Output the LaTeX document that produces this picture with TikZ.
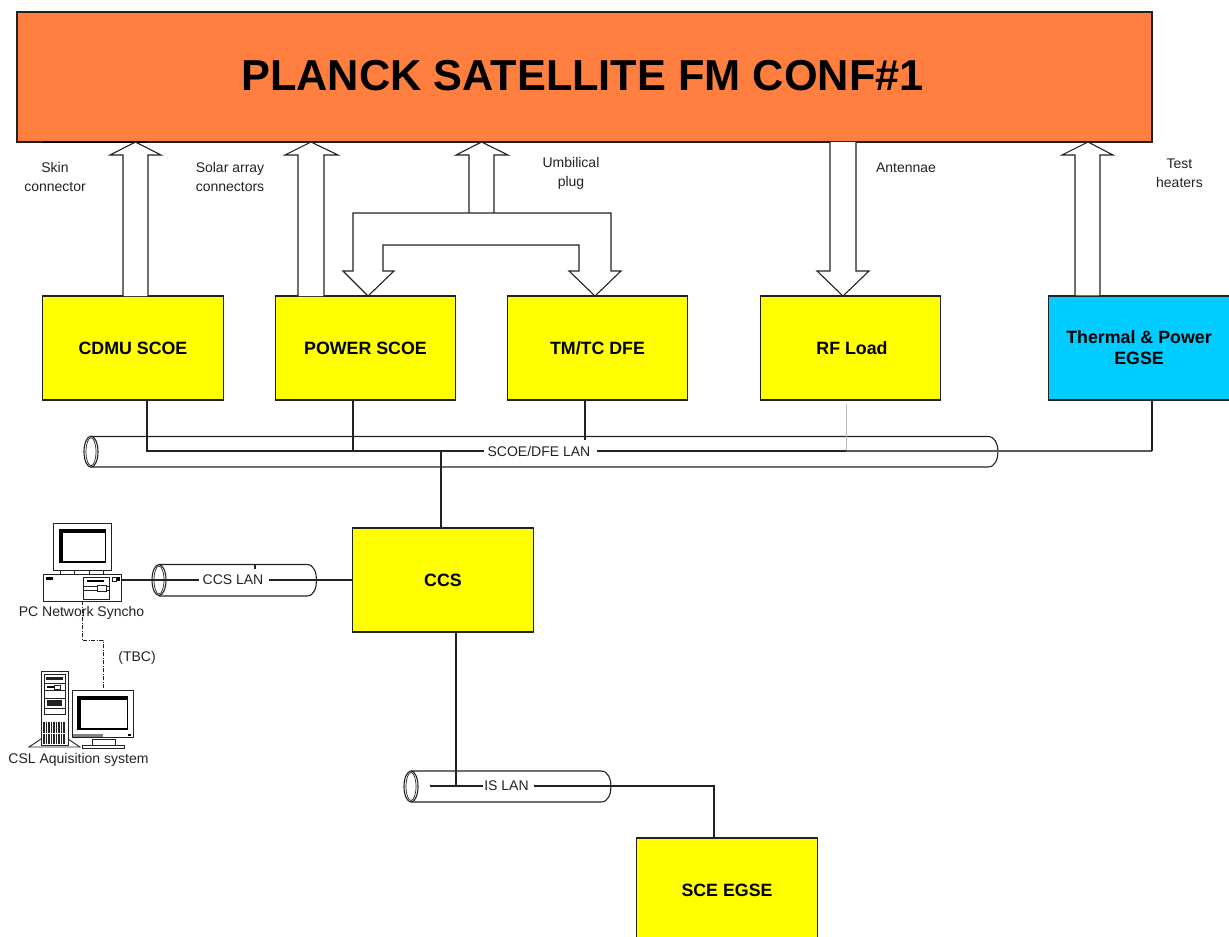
\documentclass[tikz,border=0pt]{standalone}
\usepackage{fontspec}
\setmainfont{Liberation Sans}
\definecolor{topfill}{HTML}{FF7F40}
\definecolor{cyanfill}{HTML}{00CCFF}
\definecolor{boxyellow}{HTML}{FFFF00}
\definecolor{ink}{HTML}{222222}
\tikzset{
  box/.style={draw=ink,line width=1.1pt,fill=#1,minimum width=180.5pt,minimum height=104pt,inner sep=0pt,align=center,font=\fontsize{17.8}{21}\selectfont\bfseries},
  box/.default=boxyellow,
  wire/.style={draw=ink,line width=1.25pt},
  bigarrow/.style={draw=ink,line width=1.1pt,fill=white,line join=miter},
  lbl/.style={font=\fontsize{14}{18.5}\selectfont,align=center,text=ink,inner sep=0pt},
  lanlbl/.style={font=\fontsize{14}{16}\selectfont,text=ink,inner sep=0pt},
  pipe/.style={draw=ink,line width=1.1pt},
  icon/.style={draw=ink,line width=.9pt,fill=white},
  screenout/.style={fill=black},
  screenin/.style={fill=white},
}
\begin{document}
\begin{tikzpicture}[x=1pt,y=-1pt]
\useasboundingbox (0,0) rectangle (1229,937);
\begin{scope}
\clip (0,0) rectangle (1229,937);
% boxes
\node[box=topfill,minimum width=1135pt,minimum height=130pt] (sat) at (584.5,77) {};
\node[font=\fontsize{43.3}{50}\selectfont\bfseries,inner sep=0pt] (title) at (582.5,75.5) {PLANCK SATELLITE FM CONF\#1};
\node[box] (cdmu) at (133,348) {CDMU SCOE};
\node[box] (power) at (365.5,348) {POWER SCOE};
\node[box] (tmtc) at (597.5,348) {TM/TC DFE};
\node[box] (rf) at (850.5,348) {\hspace*{3pt}RF Load};
\node[box=cyanfill] (thermal) at (1139,348) {Thermal \& Power\\EGSE};
\node[box] (ccs) at (443,580) {CCS};
\node[box] (sce) at (727,890) {SCE EGSE};
\end{scope}
\draw[black,line width=1.7pt] (43,142) -- (147,142);
% block arrows
\draw[bigarrow] (123,296) -- (123,155) -- (110,155) -- (135.5,142) -- (161,155) -- (148,155) -- (148,296);
\draw[bigarrow] (298,296) -- (298,155) -- (285,155) -- (311,142) -- (338,155) -- (324,155) -- (324,296);
\draw[bigarrow] (469,213) -- (469,155) -- (456,155) -- (481.5,142) -- (508,155) -- (494,155) -- (494,213);
\draw[bigarrow] (353,213) -- (611,213) -- (611,271) -- (621,271) -- (595,296) -- (569,271) -- (579,271) -- (579,245) -- (383,245) -- (383,271) -- (394,271) -- (368,296) -- (343,271) -- (353,271) -- cycle;
\draw[bigarrow] (830,142) -- (830,271) -- (817,271) -- (843,296) -- (869,271) -- (856,271) -- (856,142);
\draw[bigarrow] (1088,142) -- (1113,155) -- (1100,155) -- (1100,296) -- (1075,296) -- (1075,155) -- (1062,155) -- cycle;
% labels
\node[lbl] (lskin) at (55,177) {Skin\\connector};
\node[lbl] (lsolar) at (230,177) {Solar array\\connectors};
\node[lbl] (lumb) at (571,173.5) {Umbilical\\plug};
\node[lbl] (lant) at (906,168) {Antennae};
\node[lbl] (ltest) at (1179.5,173) {Test\\heaters};
% SCOE/DFE LAN pipe
\draw[pipe] (91,436.5) -- (988,436.5) to[out=0,in=90] (998,451.5) to[out=-90,in=0] (988,467) -- (91,467);
\draw[pipe,fill=white] (91,451.7) ellipse (7 and 15.5);
\draw[pipe,line width=.7pt] (91,451.7) ellipse (5 and 14);
\coordinate (busA) at (147,451);
\coordinate (busB) at (353,451);
\coordinate (busC) at (585,440);
\coordinate (busD) at (846,451);
\coordinate (busE) at (1152,451);
\coordinate (busF) at (441,451);
\node[lanlbl] (scoelan) at (539,451) {SCOE/DFE LAN};
\draw[wire] (busA |- cdmu.south) -- (busA) -- ([xshift=-3pt]scoelan.west);
\draw[wire] (busB |- power.south) -- (busB);
\draw[wire] (busC |- tmtc.south) -- (busC);
\draw[wire] ([xshift=6pt]scoelan.east) -- (busD);
\draw[draw=gray!55,line width=1pt] (846,404) -- (busD);
\draw[draw=gray!70!black,line width=1.1pt] (busD) -- (busE);
\draw[wire] (busE) -- (busE |- thermal.south);
\draw[wire] (busF) -- (busF |- ccs.north);
% CCS LAN pipe
\draw[pipe] (159,564.5) -- (307,564.5) to[out=0,in=90] (316.5,580) to[out=-90,in=0] (307,596) -- (159,596);
\draw[pipe] (255,564.5) -- (255,569);
\draw[pipe,fill=white] (159,580) ellipse (7 and 15.5);
\draw[pipe,line width=.7pt] (159,580) ellipse (5 and 14);
\node[lanlbl] (ccslan) at (233,580) {CCS LAN};
% PC icon
\coordinate (pcR) at (121,580);
\draw[icon] (43,574) rectangle (121,601);
\draw[icon] (53,523) rectangle (111,570);
\fill[screenout] (58.5,529) rectangle (106,563);
\fill[screenin] (62.5,532.5) rectangle (104.5,561);
\draw[ink,line width=.8pt] (60,570) -- (60,574) (74,570) -- (74,574) (89,570) -- (89,574) (103,570) -- (103,574);
\fill[black] (46,577) rectangle (53,580);
\draw[icon,line width=.6pt] (83,577) rectangle (109,599);
\fill[black] (87,580) rectangle (104,582);
\draw[ink,line width=.5pt] (83,586) -- (109,586) (83,590) -- (109,590);
\draw[icon,line width=.5pt] (97,585) rectangle (106,591);
\draw[ink,line width=.6pt] (112,577) rectangle (116,581);
\fill[black] (117,577) rectangle (120,581);
\node[lbl] (pclbl) at (81.5,613) {PC Network Syncho};
\draw[wire] (pcR) -- ([xshift=-3pt]ccslan.west);
\draw[wire] ([xshift=5pt]ccslan.east) -- (ccs.west |- ccslan);
% CSL icon
\draw[icon] (41,739) -- (29,747) -- (80,747) -- (68,739);
\draw[icon] (41,671) rectangle (68,745);
\draw[icon,line width=.5pt] (44,674) rectangle (65,714);
\fill[ink] (46,677) rectangle (63,680);
\draw[ink,line width=.5pt] (44,683) -- (65,683) (44,690) -- (65,690) (44,698) -- (65,698) (44,708) -- (65,708);
\fill[black] (47,686) rectangle (60,688);
\draw[icon,line width=.5pt] (54,685) rectangle (60,689);
\fill[ink] (47,700) rectangle (62,706);
\foreach \xx in {44,46.5,...,64}{\draw[ink,line width=1.1pt] (\xx,722) -- (\xx,744);}
\draw[white,line width=.7pt] (43,733) -- (66,733);
\draw[icon] (92,739) rectangle (115,745);
\draw[icon] (82,745) rectangle (124,748);
\draw[icon] (72,690) rectangle (133,737);
\fill[screenout] (77,696) rectangle (128,730);
\fill[screenin] (81,699.5) rectangle (126.5,728);
\fill[gray] (73,734) rectangle (103,737);
\fill[black] (128,734) rectangle (131,736);
\node[lbl] (csllbl) at (78.5,760) {CSL Aquisition system};
\node[lbl] (tbc) at (137,658) {(TBC)};
\draw[ink,line width=.9pt,dash pattern=on 4pt off 1.5pt on 1pt off 1.5pt] (82,601) -- (82,640) -- (103,640) -- (103,690);
% IS LAN pipe
\draw[pipe] (411,771) -- (601,771) to[out=0,in=90] (611,786.5) to[out=-90,in=0] (601,802) -- (411,802);
\draw[pipe,fill=white] (411,786.5) ellipse (7 and 15.5);
\draw[pipe,line width=.7pt] (411,786.5) ellipse (5 and 14);
\node[lanlbl] (islan) at (506.5,786) {IS LAN};
\coordinate (isA) at (430,786);
\coordinate (isB) at (456,786);
\coordinate (isC) at (714,786);
\draw[wire] (isA) -- ([xshift=-1pt]islan.west);
\draw[wire] (isB |- ccs.south) -- (isB);
\draw[wire] ([xshift=5pt]islan.east) -- (isC) -- (isC |- sce.north);
\end{tikzpicture}
\end{document}
